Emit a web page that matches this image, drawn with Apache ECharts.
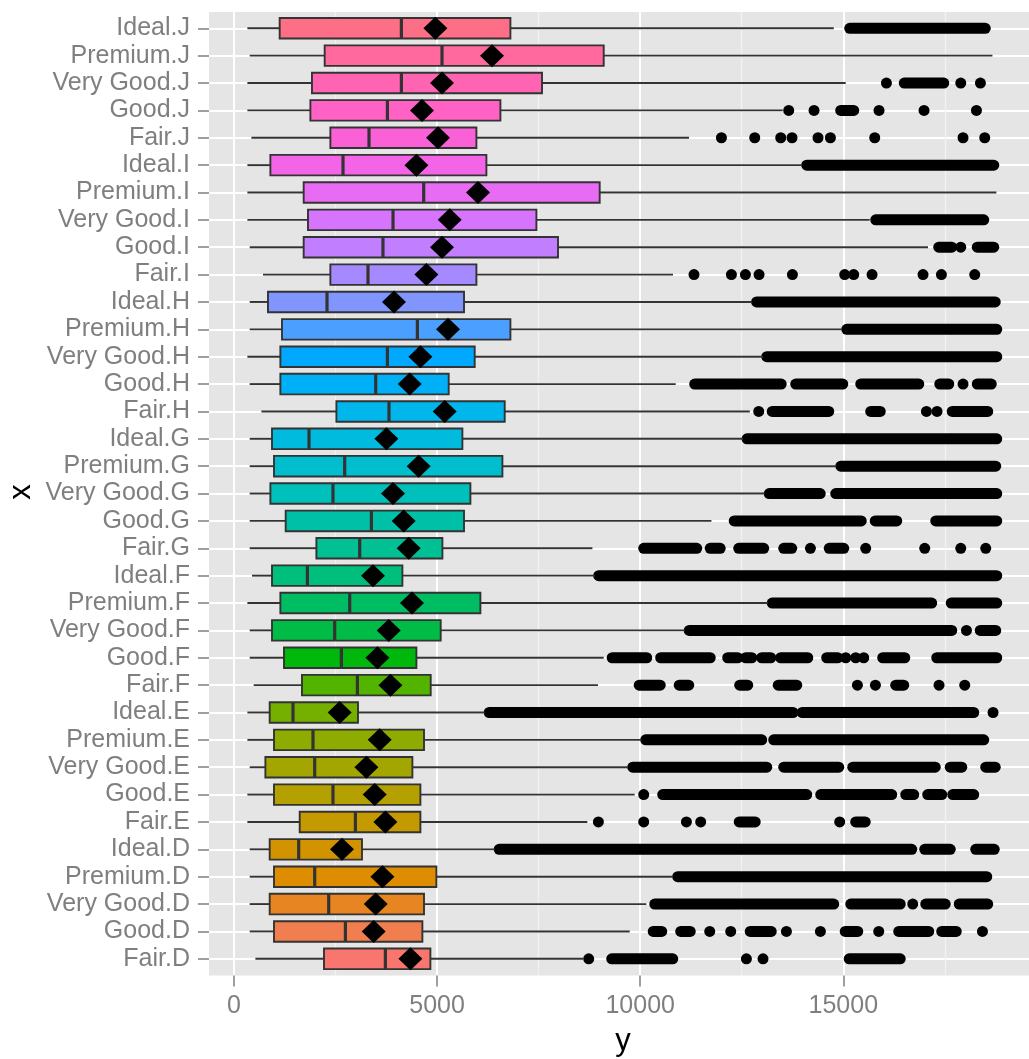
<!DOCTYPE html>
<html><head><meta charset="utf-8">
<script src="https://cdn.jsdelivr.net/npm/echarts@6/dist/echarts.min.js"></script>
<style>html,body{margin:0;padding:0;background:#fff}#chart{width:1029px;height:1059px}</style>
</head><body><div id="chart"></div>
<script>
// Categories, bottom (Fair.D) to top (Ideal.J)
const categories = [
  'Fair.D','Good.D','Very Good.D','Premium.D','Ideal.D',
  'Fair.E','Good.E','Very Good.E','Premium.E','Ideal.E',
  'Fair.F','Good.F','Very Good.F','Premium.F','Ideal.F',
  'Fair.G','Good.G','Very Good.G','Premium.G','Ideal.G',
  'Fair.H','Good.H','Very Good.H','Premium.H','Ideal.H',
  'Fair.I','Good.I','Very Good.I','Premium.I','Ideal.I',
  'Fair.J','Good.J','Very Good.J','Premium.J','Ideal.J'
];
const whiskerLow  = [527,387,387,387,387, 330,330,387,330,330, 485,387,387,330,443, 387,387,387,387,387, 675,387,330,387,387, 714,387,330,330,330, 428,330,330,387,330];
const q1          = [2216,985,879,985,879, 1618,985,773,985,879, 1674,1231,936,1142,936, 2029,1273,896,985,936, 2521,1142,1142,1182,837, 2373,1716,1822,1716,896, 2373,1881,1920,2233,1125];
const medians     = [3727,2743,2332,1987,1593, 2989,2437,1987,1945,1453, 3038,2644,2479,2849,1807, 3095,3383,2437,2725,1847, 3816,3489,3777,4515,2290, 3299,3668,3915,4670,2684, 3324,3777,4121,5121,4121];
const q3          = [4835,4638,4678,4983,3151, 4589,4589,4392,4678,3053, 4843,4491,5089,6066,4146, 5131,5663,5820,6608,5623, 6665,5286,5926,6805,5663, 5968,7977,7445,9003,6214, 5968,6559,7583,9102,6805];
const whiskerHigh = [8600,9742,10153,10808,6418, 8700,9865,9700,10030,6172, 8962,9102,11096,13147,8881, 8824,11754,13066,14831,12532, 12700,10875,13024,14954,12738, 10808,17086,15651,18770,13969, 11202,13509,15060,18672,14765];
const means       = [4343,3439,3489,3654,2659, 3727,3464,3260,3587,2602, 3851,3531,3809,4382,3422, 4301,4178,3915,4547,3752, 5187,4326,4589,5269,3939, 4737,5121,5311,6007,4491, 5022,4629,5121,6352,4958];
// Outliers: [category index, from, to] (from == to for a single point; overlapping points read as a run)
const outlierRuns = [
  [0,8733,8733],[0,9299,10801],[0,12615,12615],[0,13024,13024],[0,15146,16402],
  [1,10321,10530],[1,10998,11232],[1,11712,11712],[1,12229,12229],[1,12709,13226],[1,13600,13600],[1,14437,14437],[1,15048,15356],[1,15873,15873],[1,16365,17104],[1,17424,17781],[1,18426,18426],
  [2,10358,14765],[2,15184,16402],[2,16710,16710],[2,17030,17510],[2,17854,18556],
  [3,10924,18532],
  [4,6529,16685],[4,17005,17633],[4,18261,18716],
  [5,8971,8971],[5,10087,10087],[5,11138,11138],[5,11490,11490],[5,12438,12832],[5,14912,14912],[5,15306,15540],
  [6,10087,10087],[6,10555,14100],[6,14445,16193],[6,16537,16734],[6,17079,17424],[6,17695,18211],
  [7,9816,13116],[7,13534,14888],[7,15233,17264],[7,17633,17917],[7,18507,18741],
  [8,10136,12992],[8,13287,18458],
  [9,6283,13763],[9,13989,18211],[9,18687,18687],
  [10,9976,10493],[10,10961,11195],[10,12450,12647],[10,13398,13854],[10,15348,15348],[10,15791,15791],[10,16291,16488],[10,17357,17357],[10,17990,17990],
  [11,9311,10161],[11,10505,11724],[11,12155,12401],[11,12598,12746],[11,12992,13214],[11,13460,14125],[11,14592,14863],[11,15060,15060],[11,15306,15306],[11,15503,15503],[11,15971,16513],[11,17301,18778],
  [12,11207,17670],[12,18032,18032],[12,18372,18753],
  [13,13250,17177],[13,17658,18778],
  [14,8979,18778],
  [15,10087,11392],[15,11724,11970],[15,12426,13041],[15,13534,13731],[15,14191,14191],[15,14654,15011],[15,15552,15552],[15,17005,17005],[15,17892,17892],[15,18507,18507],
  [16,12315,15442],[16,15786,16316],[16,17276,18778],
  [17,13177,14432],[17,14814,18778],
  [18,14939,18753],
  [19,12630,18778],
  [20,12918,12918],[20,13251,14642],[20,15676,15910],[20,17047,17047],[20,17308,17308],[20,17682,18556],
  [21,11342,13472],[21,13829,14987],[21,15430,16858],[21,17375,17597],[21,17948,17948],[21,18298,18643],
  [22,13116,18778],
  [23,15085,18778],
  [24,12865,18741],
  [25,11325,11325],[25,12246,12246],[25,12591,12591],[25,12926,12926],[25,13748,13748],[25,15035,15035],[25,15257,15257],[25,15708,15708],[25,16963,16963],[25,17416,17416],[25,18236,18236],
  [26,17350,17670],[26,17892,17892],[26,18298,18704],
  [27,15799,18458],
  [29,14100,18705],
  [30,12000,12000],[30,12820,12820],[30,13460,13460],[30,13738,13738],[30,14378,14378],[30,14683,14683],[30,15774,15774],[30,17948,17948],[30,18482,18482],
  [31,13657,13657],[31,14280,14280],[31,14937,15257],[31,15880,15880],[31,16988,16988],[31,18278,18278],
  [32,16062,16062],[32,16501,17473],[32,17892,17892],[32,18376,18376],
  [34,15159,18495]
];
const xTickValues = [0, 5000, 10000, 15000];

// ggplot-style hue palette (HCL, c=100, l=65)
function hcl(h, c, l) {
  const WX = 95.047, WY = 100.0, WZ = 108.883;
  const den = WX + 15 * WY + 3 * WZ;
  const un = 4 * WX / den, vn = 9 * WY / den;
  const hr = h * Math.PI / 180;
  const U = c * Math.cos(hr), V = c * Math.sin(hr);
  const Y = WY * (l > 7.999592 ? Math.pow((l + 16) / 116, 3) : l / 903.3);
  const u = U / (13 * l) + un, v = V / (13 * l) + vn;
  const X = 9.0 * Y * u / (4 * v);
  const Z = -X / 3 - 5 * Y + 3 * Y / v;
  const g = t => t > 0.00304 ? 1.055 * Math.pow(t, 1 / 2.4) - 0.055 : 12.92 * t;
  const toHex = t => { t = Math.max(0, Math.min(1, t)); const s = Math.round(t * 255).toString(16); return s.length < 2 ? '0' + s : s; };
  const R = g((3.240479 * X - 1.537150 * Y - 0.498535 * Z) / WY);
  const G = g((-0.969256 * X + 1.875992 * Y + 0.041556 * Z) / WY);
  const B = g((0.055648 * X - 0.204043 * Y + 1.057311 * Z) / WY);
  return '#' + toHex(R) + toHex(G) + toHex(B);
}
const n = categories.length;
const boxColors = categories.map((_, k) => hcl(15 + k * 360 / n, 100, 65));

const boxData = categories.map((_, k) => [k, whiskerLow[k], q1[k], medians[k], q3[k], whiskerHigh[k]]);
const meanData = categories.map((_, k) => [means[k], k]);
const runData = outlierRuns.map(r => [r[1], r[2], r[0]]);

const FONT = "'Liberation Sans', Arial, sans-serif";
const GREY = '#7F7F7F';
const PX0 = 234, PL = 209, PR = 1029;            // pixel of 0, panel left, panel right
const S = (PR - PX0) / 19572;                     // px per unit
const XMAX = 19572, XMIN = -Math.round((PX0 - PL) / S);

function renderBox(params, api) {
  const k = api.value(0);
  const lo = api.coord([api.value(1), k]);
  const a = api.coord([api.value(2), k]);
  const m = api.coord([api.value(3), k]);
  const b = api.coord([api.value(4), k]);
  const hi = api.coord([api.value(5), k]);
  const band = api.size([0, 1])[1];
  const h = band * 0.75;
  const y = lo[1];
  const stroke = '#333333';
  return { type: 'group', children: [
    { type: 'line', shape: { x1: lo[0], y1: y, x2: a[0], y2: y }, style: { stroke, lineWidth: 1.9 } },
    { type: 'line', shape: { x1: b[0], y1: y, x2: hi[0], y2: y }, style: { stroke, lineWidth: 1.9 } },
    { type: 'rect', shape: { x: a[0], y: y - h / 2, width: b[0] - a[0], height: h }, style: { fill: boxColors[k], stroke, lineWidth: 1.9 } },
    { type: 'line', shape: { x1: m[0], y1: y - h / 2, x2: m[0], y2: y + h / 2 }, style: { stroke, lineWidth: 3.2 } }
  ]};
}
function renderRun(params, api) {
  const k = api.value(2);
  const p1 = api.coord([api.value(0), k]);
  const p2 = api.coord([api.value(1), k]);
  const r = 5.5;
  return { type: 'rect', shape: { x: p1[0] - r, y: p1[1] - r, width: p2[0] - p1[0] + 2 * r, height: 2 * r, r: r }, style: { fill: '#000' } };
}

const chart = echarts.init(document.getElementById('chart'), null, { renderer: 'canvas' });
chart.setOption({
  animation: false,
  backgroundColor: '#ffffff',
  graphic: { elements: [
    { type: 'rect', z: -100, silent: true, shape: { x: PL, y: 12, width: PR - PL + 10, height: 963.5 }, style: { fill: '#E5E5E5' } },
    { type: 'text', silent: true, x: 623, y: 1041, style: { text: 'y', font: "31px " + FONT, fill: '#000', align: 'center', verticalAlign: 'middle' } },
    { type: 'text', silent: true, x: 21, y: 492, rotation: Math.PI / 2, style: { text: 'x', font: "31px " + FONT, fill: '#000', align: 'center', verticalAlign: 'middle' } }
  ]},
  grid: [
    { left: PX0, right: 0, top: 12, bottom: 1059 - 975.5, containLabel: false },
    { left: PL, right: 0, top: 14.6, bottom: 1059 - 972.5, containLabel: false }
  ],
  xAxis: [
    { type: 'value', gridIndex: 0, min: 0, max: XMAX, interval: 5000, position: 'bottom',
      axisLine: { show: false, onZero: false },
      axisTick: { show: true, length: 11, lineStyle: { color: GREY, width: 1.5 } },
      axisLabel: { show: true, margin: 18, color: GREY, fontSize: 25, fontFamily: FONT, showMaxLabel: false,
        formatter: v => xTickValues.indexOf(v) >= 0 ? String(v) : '' },
      splitLine: { show: true, showMaxLine: false, lineStyle: { color: '#FFFFFF', width: 2 } },
      z: 1 },
    { type: 'value', gridIndex: 0, min: 0, max: XMAX, interval: 2500, position: 'top',
      axisLine: { show: false, onZero: false }, axisTick: { show: false }, axisLabel: { show: false },
      splitLine: { show: true, showMaxLine: false, lineStyle: { color: ['rgba(0,0,0,0)', '#F2F2F2'], width: 1.3 } },
      z: 0 },
    { type: 'value', gridIndex: 1, min: XMIN, max: XMAX, show: false, axisLine: { onZero: false } }
  ],
  yAxis: [
    { type: 'value', gridIndex: 0, min: 0, max: 1, show: false, axisLine: { onZero: false } },
    { type: 'category', gridIndex: 1, data: categories, position: 'left',
      axisLine: { show: false, onZero: false },
      axisTick: { show: true, alignWithLabel: true, interval: 0, length: 11, lineStyle: { color: GREY, width: 1.5 } },
      axisLabel: { show: true, interval: 0, margin: 19, color: GREY, fontSize: 25, fontFamily: FONT },
      splitLine: { show: true, alignWithLabel: true, interval: 0, lineStyle: { color: '#FFFFFF', width: 2 } } }
  ],
  series: [
    { type: 'custom', name: 'outliers', xAxisIndex: 2, yAxisIndex: 1, renderItem: renderRun,
      encode: { x: [0, 1], y: 2 }, data: runData, z: 2, silent: true, clip: false },
    { type: 'custom', name: 'boxes', xAxisIndex: 2, yAxisIndex: 1, renderItem: renderBox,
      encode: { y: 0, x: [1, 2, 3, 4, 5] }, data: boxData, z: 3, silent: true },
    { type: 'scatter', name: 'mean', xAxisIndex: 2, yAxisIndex: 1, data: meanData,
      symbol: 'diamond', symbolSize: [24, 23], itemStyle: { color: '#000000', opacity: 1 }, z: 4, silent: true }
  ]
});
</script></body></html>
